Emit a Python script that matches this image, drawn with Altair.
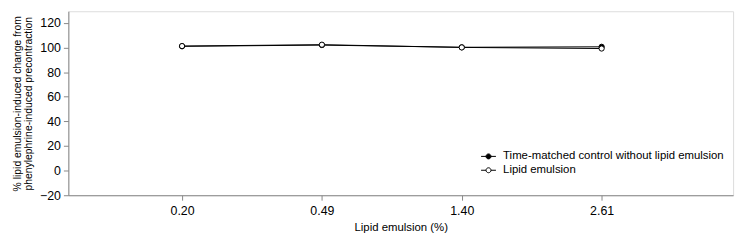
import altair as alt
import pandas as pd

doses = ["0.20", "0.49", "1.40", "2.61"]
series_names = ["Time-matched control without lipid emulsion", "Lipid emulsion"]
control_vals = [101.0, 102.0, 100.2, 100.6]
lipid_vals = [101.2, 102.3, 100.1, 99.2]

rows = []
for i, d in enumerate(doses):
    rows.append({"idx": i + 1, "dose": d, "series": series_names[0], "value": control_vals[i], "ord": 0})
    rows.append({"idx": i + 1, "dose": d, "series": series_names[1], "value": lipid_vals[i], "ord": 1})
df = pd.DataFrame(rows)

FONT = "Liberation Sans"
label_expr = "[" + ",".join("'%s'" % d for d in doses) + "][datum.value - 1]"

x = alt.X("idx:Q", title="Lipid emulsion (%)",
          scale=alt.Scale(domain=[0.187, 4.94], nice=False, zero=False),
          axis=alt.Axis(values=[1, 2, 3, 4], labelExpr=label_expr, grid=False,
                        tickSize=5, titlePadding=5, labelPadding=4,
                        labelFont=FONT, labelFontSize=12.5,
                        titleFontWeight="normal", titleFontSize=11.5))
y = alt.Y("value:Q", title=["% lipid emulsion-induced change from", "phenylephrine-induced precontraction"],
          scale=alt.Scale(domain=[-20, 129.5], nice=False, zero=False),
          axis=alt.Axis(values=[-20, 0, 20, 40, 60, 80, 100, 120], grid=False,
                        tickSize=5, titlePadding=6, labelPadding=3,
                        labelFont=FONT, labelFontSize=12.5,
                        titleFontWeight="normal", titleFontSize=10.5, titleLineHeight=11))

sym = "M-3,0H-1M1,0H3M-1,0A1,1 0 1,0 1,0A1,1 0 1,0 -1,0Z"

lines = alt.Chart(df).mark_line(color="black", strokeWidth=1).encode(
    x=x, y=y, detail="series:N", order="idx:Q")
points = alt.Chart(df).mark_point(filled=False, stroke="black", strokeWidth=1, size=28, opacity=1).encode(
    x=x, y=y,
    fill=alt.Fill("series:N",
                  scale=alt.Scale(domain=series_names, range=["black", "white"]),
                  legend=alt.Legend(title=None, orient="none", legendX=419, legendY=141,
                                    symbolType=sym, symbolSize=25, symbolStrokeColor="black",
                                    symbolStrokeWidth=1, labelOffset=9, rowPadding=1,
                                    padding=0, labelFontSize=11.5, labelFont=FONT,
                                    labelColor="black", labelLimit=400)),
    order=alt.Order("ord:Q"))

chart = alt.layer(lines, points).properties(
    width=672, height=186,
    autosize=alt.AutoSizeParams(type="none"),
    padding={"left": 61, "top": 2, "right": 9, "bottom": 45},
).configure_view(stroke="#8c8c8c", strokeWidth=1).configure_axis(
    domainColor="#8c8c8c", tickColor="#8c8c8c", labelColor="black", titleColor="black",
    labelFont=FONT, titleFont=FONT,
).configure_legend(labelFont=FONT).configure(background="white")

chart.save("out.html", embed_options={"renderer": "svg", "actions": False})
